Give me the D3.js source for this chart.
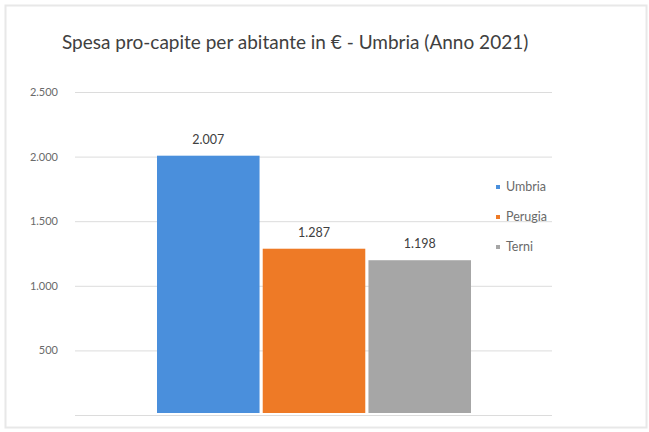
<!DOCTYPE html>
<html><head><meta charset="utf-8">
<script src="https://cdn.jsdelivr.net/npm/d3@7"></script>
<style>body{margin:0;background:#fff}svg{display:block}</style>
</head><body>
<script>
const categories = ["Umbria", "Perugia", "Terni"];
const values = [2007, 1287, 1198];
const colors = ["#4a8fdc", "#ee7a26", "#a6a6a6"];
const yTicks = [0, 500, 1000, 1500, 2000, 2500];
const title = "Spesa pro-capite per abitante in € - Umbria (Anno 2021)";

const W = 649, H = 432;
const svg = d3.select("body").append("svg").attr("width", W).attr("height", H);
svg.append("rect").attr("x", 5.5).attr("y", 5.5).attr("width", W - 8).attr("height", H - 10)
  .attr("fill", "#fff").attr("stroke", "#e8e8e8").attr("stroke-width", 2);

const fmt = v => d3.format(",")(v).replace(/,/g, ".");
const y = d3.scaleLinear().domain([0, 2500]).range([415, 92]);
const x = d3.scaleBand().domain(categories).range([157, 471]).paddingInner(0.03);

const grid = svg.append("g");
grid.selectAll("line").data(yTicks).join("line")
  .attr("x1", 75).attr("x2", 552)
  .attr("y1", d => y(d) + 0.5).attr("y2", d => y(d) + 0.5)
  .attr("stroke", "#dcdcdc").attr("stroke-width", 1);

const yAxis = d3.axisLeft(y).tickValues(yTicks.filter(d => d > 0)).tickFormat(fmt).tickSize(0).tickPadding(0);
const ga = svg.append("g").attr("transform", "translate(58,0)").call(yAxis);
ga.select(".domain").remove();
ga.selectAll("text").attr("font-family", "Lato, sans-serif").attr("font-size", 11).attr("fill", "#6a6a6a");

svg.selectAll("rect.bar").data(values).join("rect").attr("class", "bar")
  .attr("x", (d, i) => x(categories[i])).attr("width", x.bandwidth())
  .attr("y", d => y(d)).attr("height", d => y(0) - y(d) - 2)
  .attr("fill", (d, i) => colors[i]);

svg.selectAll("text.lbl").data(values).join("text").attr("class", "lbl")
  .attr("x", (d, i) => x(categories[i]) + x.bandwidth() / 2)
  .attr("y", d => y(d) - 12)
  .attr("text-anchor", "middle").attr("font-family", "Lato, sans-serif").attr("font-size", 12.5)
  .attr("fill", "#404040").text(fmt);

svg.append("text").attr("x", 62).attr("y", 49).attr("font-family", "Lato, sans-serif")
  .attr("font-size", 19).attr("fill", "#404040").text(title);

const lg = svg.append("g").selectAll("g").data(categories).join("g")
  .attr("transform", (d, i) => `translate(498,${187 + i * 30})`);
lg.append("rect").attr("x", -2).attr("y", -2).attr("width", 4).attr("height", 4)
  .attr("fill", (d, i) => colors[i]);
lg.append("text").attr("x", 8).attr("y", 4).attr("font-family", "Lato, sans-serif")
  .attr("font-size", 12.5).attr("fill", "#6a6a6a").text(d => d);
</script>
</body></html>
